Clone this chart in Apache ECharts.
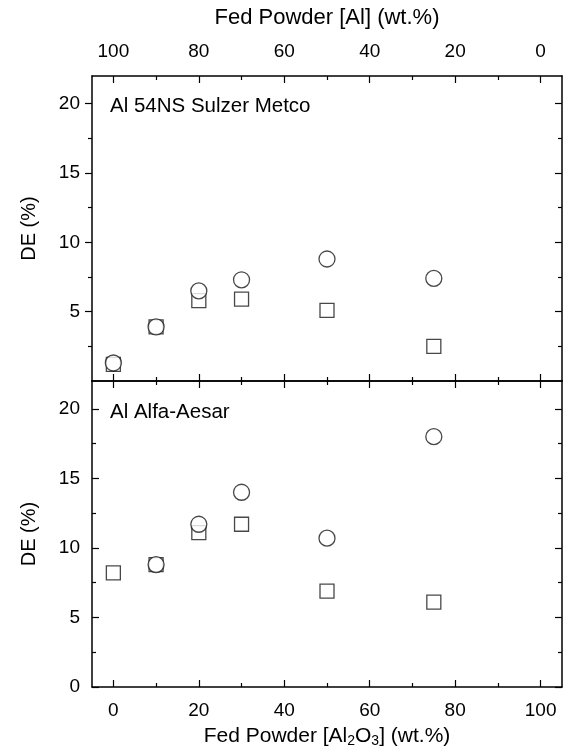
<!DOCTYPE html>
<html>
<head>
<meta charset="utf-8">
<script src="https://cdn.jsdelivr.net/npm/echarts@6/dist/echarts.min.js"></script>
<style>
  html, body { margin: 0; padding: 0; background: #fff; }
  #chart { width: 565px; height: 752px; }
</style>
</head>
<body>
<div id="chart"></div>
<script>
// Al2O3 content of the fed powder (wt.%)
const al2o3Pct = [0, 10, 20, 30, 50, 75];
// DE (%) - Al 54NS Sulzer Metco panel
const metcoCircle = [1.3, 3.9, 6.5, 7.3, 8.8, 7.4];
const metcoSquare = [1.2, 3.9, 5.8, 5.9, 5.1, 2.5];
// DE (%) - Al Alfa-Aesar panel
const alfaCircle = [null, 8.8, 11.7, 14.0, 10.7, 18.0];
const alfaSquare = [8.2, 8.8, 11.1, 11.7, 6.9, 6.1];

// tick labels
const xMajor = [0, 20, 40, 60, 80, 100];
const xMinor = [10, 30, 50, 70, 90];
const yMajorTop = [5, 10, 15, 20];
const yMajorBottom = [0, 5, 10, 15, 20];
const yMinor = [2.5, 7.5, 12.5, 17.5];

const font = 'Liberation Sans, Arial, sans-serif';
const ink = '#000';

function pairs (xs, ys) {
  const out = [];
  xs.forEach((x, i) => {
    if (ys[i] != null) out.push([x, ys[i]]);
  });
  return out;
}

// one x axis (major or minor ticks) for a grid
function xAx (grid, position, values, len, inside, extra) {
  return Object.assign({
    type: 'value',
    gridIndex: grid,
    position: position,
    min: -5,
    max: 105,
    inverse: position === 'top',
    axisLine: { show: len > 4, onZero: false, lineStyle: { color: ink, width: 1.5 } },
    axisTick: { show: true, inside: inside, length: len, customValues: values, lineStyle: { color: ink, width: 1.2 } },
    axisLabel: { show: false },
    splitLine: { show: false }
  }, extra || {});
}

// one y axis (major or minor ticks) for a grid
function yAx (grid, position, values, len, inside, extra) {
  return Object.assign({
    type: 'value',
    gridIndex: grid,
    position: position,
    min: 0,
    max: 22,
    axisLine: { show: len > 4, onZero: false, lineStyle: { color: ink, width: 1.5 } },
    axisTick: { show: true, inside: inside, length: len, customValues: values, lineStyle: { color: ink, width: 1.2 } },
    axisLabel: { show: false },
    splitLine: { show: false }
  }, extra || {});
}

const tickLabel = { show: true, color: ink, fontFamily: font, fontSize: 19 };
const nameStyle = { color: ink, fontFamily: font, fontSize: 21 };
const deName = {
  name: 'DE (%)',
  nameLocation: 'middle',
  nameGap: 53,
  nameTextStyle: { color: ink, fontFamily: font, fontSize: 20 }
};

const xAxes = [
  // top panel
  xAx(0, 'bottom', xMajor, 7, true),
  xAx(0, 'bottom', xMinor, 4, true),
  xAx(0, 'top', xMajor, 7, true, {
    axisLabel: Object.assign({ customValues: xMajor, margin: 15 }, tickLabel),
    name: 'Fed Powder [Al] (wt.%)',
    nameLocation: 'middle',
    nameGap: 47,
    nameTextStyle: Object.assign({}, nameStyle, { fontSize: 22 })
  }),
  xAx(0, 'top', xMinor, 4, true),
  // bottom panel
  xAx(1, 'bottom', xMajor, 7, true, {
    axisLabel: Object.assign({ customValues: xMajor, margin: 14 }, tickLabel),
    name: 'Fed Powder [Al{sub|2}O{sub|3}] (wt.%)',
    nameLocation: 'middle',
    nameGap: 37,
    nameTextStyle: Object.assign({
      rich: { sub: { fontFamily: font, fontSize: 14, color: ink, padding: [10, 0, 0, 0] } }
    }, nameStyle)
  }),
  xAx(1, 'bottom', xMinor, 4, true),
  xAx(1, 'top', xMajor, 7, true),
  xAx(1, 'top', xMinor, 4, true)
];

const yAxes = [
  // top panel
  yAx(0, 'left', yMajorTop, 7, false, Object.assign({
    axisLabel: Object.assign({ customValues: yMajorTop, margin: 12 }, tickLabel)
  }, deName)),
  yAx(0, 'left', yMinor, 4, false),
  yAx(0, 'right', yMajorTop, 7, true),
  yAx(0, 'right', yMinor, 4, true),
  // bottom panel
  yAx(1, 'left', yMajorBottom, 7, true, Object.assign({
    axisLabel: Object.assign({ customValues: yMajorBottom, margin: 12 }, tickLabel)
  }, deName)),
  yAx(1, 'left', yMinor, 4, true),
  yAx(1, 'right', yMajorBottom, 7, true),
  yAx(1, 'right', yMinor, 4, true)
];

function scatter (name, xi, yi, data, symbol, size) {
  return {
    name: name,
    type: 'scatter',
    xAxisIndex: xi,
    yAxisIndex: yi,
    data: data,
    symbol: symbol,
    symbolSize: size,
    itemStyle: { color: '#fff', borderColor: '#1a1a1a', borderWidth: 1.3 },
    emphasis: { disabled: true }
  };
}

const panelTitle = { color: ink, fontFamily: font, fontSize: 20.5, fontWeight: 'normal' };

const chart = echarts.init(document.getElementById('chart'));
chart.setOption({
  animation: false,
  backgroundColor: '#fff',
  grid: [
    { left: 92, right: 3, top: 76, height: 305 },
    { left: 92, right: 3, top: 381, height: 306 }
  ],
  title: [
    { text: 'Al 54NS Sulzer Metco', left: 110, top: 96, padding: 0, textStyle: panelTitle },
    { text: 'Al Alfa-Aesar', left: 110, top: 402, padding: 0, textStyle: panelTitle }
  ],
  xAxis: xAxes,
  yAxis: yAxes,
  series: [
    // squares first so the circles sit on top
    scatter('square', 0, 0, pairs(al2o3Pct, metcoSquare), 'rect', 14),
    scatter('circle', 0, 0, pairs(al2o3Pct, metcoCircle), 'circle', 16),
    scatter('square', 4, 4, pairs(al2o3Pct, alfaSquare), 'rect', 14),
    scatter('circle', 4, 4, pairs(al2o3Pct, alfaCircle), 'circle', 16)
  ]
});
</script>
</body>
</html>
